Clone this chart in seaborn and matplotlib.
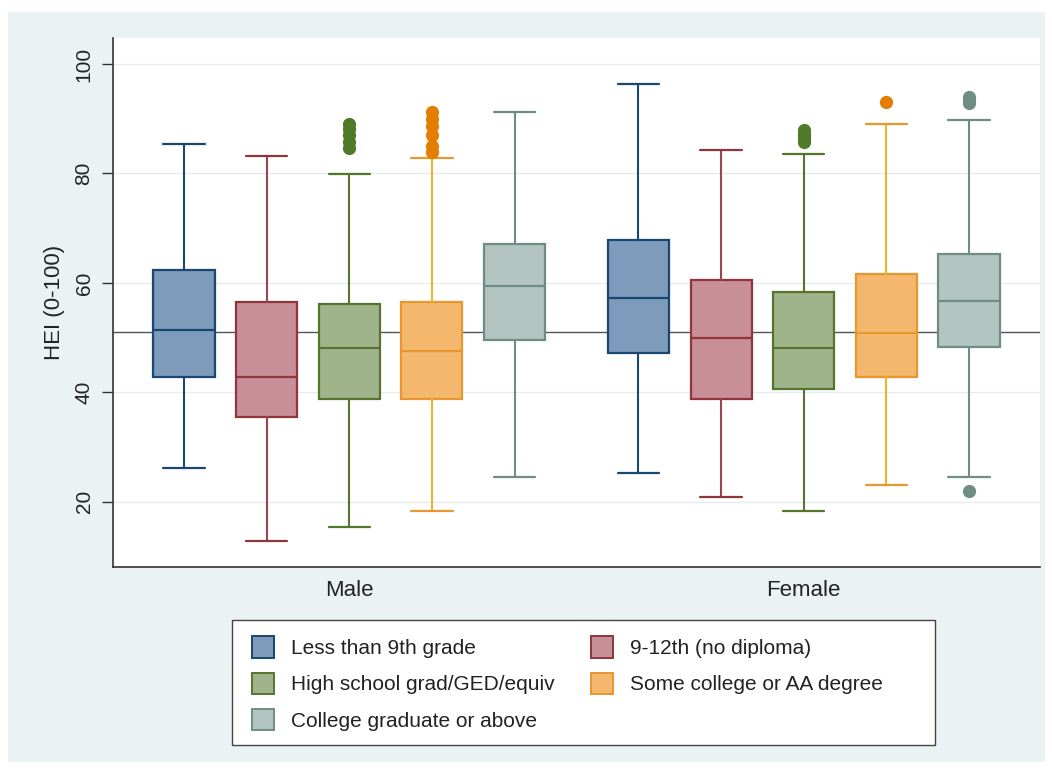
import matplotlib
matplotlib.use("Agg")
import matplotlib.pyplot as plt
from matplotlib.patches import Patch, Rectangle
import seaborn as sns

# Education categories and sexes
education = ["Less than 9th grade", "9-12th (no diploma)",
             "High school grad/GED/equiv", "Some college or AA degree",
             "College graduate or above"]
sexes = ["Male", "Female"]

# Five-number summaries of HEI score per education level (Male)
male_whislo = [26.1, 12.9, 15.4, 18.4, 24.6]
male_q1 = [42.8, 35.5, 38.8, 38.8, 49.6]
male_med = [51.4, 42.8, 48.1, 47.6, 59.5]
male_q3 = [62.4, 56.5, 56.2, 56.5, 67.1]
male_whishi = [85.4, 83.2, 79.9, 82.8, 91.2]
male_outliers = [[], [], [84.6, 85.8, 87.0, 88.2, 89.0],
                 [83.9, 85.0, 87.0, 88.6, 90.0, 91.2], []]

# Five-number summaries of HEI score per education level (Female)
female_whislo = [25.3, 20.9, 18.4, 23.1, 24.6]
female_q1 = [47.2, 38.8, 40.6, 42.8, 48.3]
female_med = [57.3, 50.0, 48.1, 50.9, 56.7]
female_q3 = [67.9, 60.5, 58.4, 61.6, 65.3]
female_whishi = [96.3, 84.3, 83.6, 89.0, 89.8]
female_outliers = [[], [], [85.8, 86.5, 87.3, 88.0], [93.1],
                   [22.0, 92.8, 93.5, 94.0]]

# Overall reference line
hei_reference = 51.0

y_ticks = [20, 40, 60, 80, 100]

fill_colors = ["#7f9bbb", "#c98f98", "#a0b48b", "#f3b86d", "#b2c5c0"]
line_colors = ["#1a476f", "#90353b", "#55752f", "#e8972e", "#6e8e84"]
whisker_colors = ["#1a476f", "#9c4550", "#55752f", "#efb52a", "#6e8e84"]
flier_colors = ["#1a476f", "#90353b", "#4f7a2a", "#e37e00", "#6e8e84"]

sns.set_theme(style="white")
plt.rcParams["font.family"] = ["Liberation Sans", "DejaVu Sans"]

fig = plt.figure(figsize=(10.52, 7.74), dpi=100)
fig.patch.set_facecolor("white")
fig.patches.append(Rectangle((8 / 1052, 1 - 762 / 774), 1037 / 1052, 750 / 774,
                             transform=fig.transFigure, facecolor="#eaf2f3",
                             edgecolor="none", zorder=-2))

ax = fig.add_axes([113 / 1052, 1 - 567 / 774, 927 / 1052, 529 / 774])
ax.set_zorder(2)
ax.set_facecolor("white")

box_width = 0.74
group_offset = [0.0, 5.5]
summaries = [
    (male_whislo, male_q1, male_med, male_q3, male_whishi, male_outliers),
    (female_whislo, female_q1, female_med, female_q3, female_whishi, female_outliers),
]

for g, (lo, q1, med, q3, hi, fl) in enumerate(summaries):
    for i in range(len(education)):
        stats = [dict(whislo=lo[i], q1=q1[i], med=med[i], q3=q3[i],
                      whishi=hi[i], fliers=fl[i], label=education[i])]
        ax.bxp(stats, positions=[group_offset[g] + i], widths=box_width,
               capwidths=0.5, patch_artist=True, manage_ticks=False,
               boxprops=dict(facecolor=fill_colors[i], edgecolor=line_colors[i],
                             linewidth=1.6),
               medianprops=dict(color=line_colors[i], linewidth=1.6),
               whiskerprops=dict(color=whisker_colors[i], linewidth=1.5),
               capprops=dict(color=line_colors[i], linewidth=1.6),
               flierprops=dict(marker="o", markersize=8.5,
                               markerfacecolor=flier_colors[i],
                               markeredgecolor=flier_colors[i]),
               zorder=3)

ax.axhline(hei_reference, color="#555555", linewidth=1.0, zorder=2)
for t in y_ticks:
    ax.axhline(t, color="#e6ebeb", linewidth=1.0, zorder=1)

ax.set_xlim(-0.86, 10.36)
ax.set_ylim(8.1, 104.75)

ax.set_yticks(y_ticks)
ax.set_yticklabels([str(t) for t in y_ticks], rotation=90, va="center",
                   fontsize=15, color="#222222")
ax.tick_params(axis="y", length=8, width=1.0, color="#333333", pad=6, left=True)
ax.set_xticks([group_offset[0] + 2, group_offset[1] + 2])
ax.set_xticklabels(sexes, fontsize=16, color="#222222")
ax.tick_params(axis="x", length=0, pad=9)
ax.set_ylabel("HEI (0-100)", fontsize=16, color="#222222", labelpad=7)

for side in ["top", "right"]:
    ax.spines[side].set_visible(False)
for side in ["left", "bottom"]:
    ax.spines[side].set_color("#333333")
    ax.spines[side].set_linewidth(1.2)

# Legend frame and entries, filled row by row
fig.patches.append(Rectangle((232 / 1052, 1 - 745 / 774), 703 / 1052, 125 / 774,
                             transform=fig.transFigure, facecolor="white",
                             edgecolor="#444444", linewidth=1.0, zorder=-1))
handles = [Patch(facecolor=fill_colors[i], edgecolor=line_colors[i],
                 linewidth=1.4, label=education[i]) for i in range(len(education))]
order = [0, 2, 4, 1, 3]
leg = fig.legend([handles[k] for k in order], [education[k] for k in order],
                 ncol=2, loc="upper left", bbox_to_anchor=(242 / 1052, 1 - 626 / 774),
                 bbox_transform=fig.transFigure, frameon=False, fontsize=15,
                 handlelength=1.05, handleheight=1.2, handletextpad=0.8,
                 labelspacing=0.7, columnspacing=1.75, borderpad=0,
                 labelcolor="#222222")
leg.set_zorder(5)

fig.savefig("out.png", dpi=100, facecolor=fig.get_facecolor())
